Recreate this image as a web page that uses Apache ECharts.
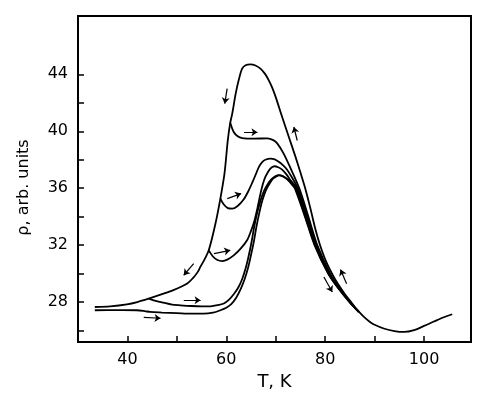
<!DOCTYPE html>
<html>
<head>
<meta charset="utf-8">
<script src="https://cdn.jsdelivr.net/npm/echarts@6/dist/echarts.min.js"></script>
<style>
html, body { margin: 0; padding: 0; background: #fff; }
#root { width: 495px; height: 398px; }
</style>
</head>
<body>
<div id="root"></div>
<script>
// main cooling curve (T, K / rho)
var tMain = [33.4, 36.5, 39.9, 42.0, 44.3, 47.0, 49.4, 52.1, 53.3, 54.2, 54.8, 55.6, 56.45, 57.8, 58.8, 59.63, 60.3, 60.8, 61.2, 61.9, 62.5, 63.2, 63.9, 64.9, 65.9, 66.9, 67.8, 68.6, 69.3, 70.0, 71.3, 72.65, 74.0, 75.0, 76.0, 77.0, 78.0, 79.0, 80.0, 81.0, 82.0, 83.0, 84.0, 85.0, 86.0, 87.0, 88.0, 89.0, 90.0, 92.0, 94.0, 96.0, 98.0, 100.0, 102.0, 104.0, 105.7];
var rMain = [27.65, 27.7, 27.84, 28.0, 28.24, 28.55, 28.85, 29.3, 29.7, 30.1, 30.5, 31.0, 31.63, 33.5, 35.27, 37.02, 39.36, 40.6, 41.24, 42.64, 43.58, 44.4, 44.64, 44.7, 44.62, 44.4, 44.05, 43.58, 43.05, 42.4, 41.0, 39.6, 38.2, 37.1, 35.95, 34.6, 33.15, 31.95, 31.0, 30.25, 29.6, 29.05, 28.55, 28.1, 27.65, 27.25, 26.9, 26.62, 26.4, 26.12, 25.96, 25.9, 26.03, 26.32, 26.63, 26.93, 27.14];

// heating branches
var tH1 = [60.8, 61.5, 62.3, 63.2, 65.6, 68.3, 69.5, 70.3, 71.6, 73.0, 74.75, 76.6, 78.4, 81.0, 82.85, 85.05, 86.84];
var rH1 = [40.6, 39.95, 39.65, 39.52, 39.48, 39.5, 39.38, 39.15, 38.43, 37.4, 36.0, 34.0, 32.0, 30.0, 29.0, 28.0, 27.3];

var tH2 = [58.8, 59.5, 60.3, 61.2, 62.3, 63.5, 64.4, 65.2, 66.0, 66.6, 67.3, 67.9, 68.95, 69.8, 70.6, 71.5, 72.3, 73.2, 74.45, 76.35, 78.2, 80.85, 82.75, 85.0, 86.82];
var rH2 = [35.27, 34.85, 34.6, 34.56, 34.75, 35.2, 35.75, 36.35, 37.0, 37.5, 37.85, 38.0, 38.08, 38.02, 37.85, 37.6, 37.3, 36.8, 36.0, 34.0, 32.0, 30.0, 29.0, 28.0, 27.3];

var tH3 = [56.45, 57.3, 58.2, 59.2, 60.3, 61.5, 62.9, 64.2, 65.0, 65.6, 66.3, 66.9, 67.4, 67.9, 68.9, 69.75, 70.5, 71.3, 72.2, 73.0, 74.2, 76.15, 78.05, 80.75, 82.68, 84.95, 86.8];
var rH3 = [31.63, 31.2, 30.95, 30.88, 31.0, 31.28, 31.75, 32.34, 33.0, 33.6, 34.6, 35.6, 36.3, 36.8, 37.37, 37.54, 37.47, 37.3, 36.95, 36.55, 36.0, 34.0, 32.0, 30.0, 29.0, 28.0, 27.3];

var tH4 = [44.3, 45.5, 47.3, 49.0, 50.7, 53.0, 55.0, 56.8, 58.3, 59.5, 60.5, 61.5, 62.4, 63.2, 63.9, 64.5, 65.1, 65.6, 66.2, 66.9, 67.6, 68.4, 69.2, 70.0, 70.6, 71.4, 72.3, 73.2, 74.0, 76.0, 77.95, 80.65, 82.62, 84.92, 86.79];
var rH4 = [28.24, 28.1, 27.95, 27.82, 27.77, 27.72, 27.7, 27.7, 27.78, 27.9, 28.15, 28.55, 29.0, 29.6, 30.35, 31.2, 32.2, 33.2, 34.2, 35.1, 35.8, 36.3, 36.65, 36.85, 36.92, 36.85, 36.65, 36.35, 36.0, 34.0, 32.0, 30.0, 29.0, 28.0, 27.3];

var tH5 = [33.4, 36.0, 39.0, 41.9, 43.5, 44.6, 47.0, 50.0, 53.0, 55.4, 57.3, 58.8, 60.0, 61.0, 62.0, 62.9, 63.7, 64.4, 65.0, 65.6, 66.1, 66.7, 67.3, 68.0, 68.7, 69.5, 70.2, 70.7, 71.5, 72.4, 73.2, 73.85, 75.9, 77.85, 80.6, 82.58, 84.9, 86.78];
var rH5 = [27.42, 27.43, 27.43, 27.42, 27.36, 27.3, 27.26, 27.22, 27.18, 27.18, 27.25, 27.42, 27.6, 27.85, 28.3, 28.9, 29.6, 30.4, 31.3, 32.3, 33.3, 34.3, 35.15, 35.85, 36.3, 36.68, 36.85, 36.9, 36.82, 36.6, 36.28, 36.0, 34.0, 32.0, 30.0, 29.0, 28.0, 27.3];

// arrows: tail -> head, in data units
var arrowFrom = [[60.17, 43.0], [63.6, 39.93], [74.35, 39.35], [60.2, 35.27], [57.5, 31.4], [53.4, 30.7], [51.4, 28.12], [43.3, 26.92], [79.74, 29.76], [84.33, 29.29]];
var arrowTo   = [[59.69, 41.94], [66.3, 39.93], [73.66, 40.3], [63.0, 35.62], [60.8, 31.63], [51.39, 29.88], [54.8, 28.12], [46.7, 26.86], [81.44, 28.7], [83.1, 30.28]];

var xTicks = [40, 50, 60, 70, 80, 90, 100];
var xLabels = [40, 60, 80, 100];
var yTicks = [26, 28, 30, 32, 34, 36, 38, 40, 42, 44];
var yLabels = [28, 32, 36, 40, 44];

function pairs(t, r) {
    var out = [];
    for (var i = 0; i < t.length; i++) out.push([t[i], r[i]]);
    return out;
}

var curves = [[tMain, rMain], [tH1, rH1], [tH2, rH2], [tH3, rH3], [tH4, rH4], [tH5, rH5]];
var series = curves.map(function (c) {
    return {
        type: 'line',
        data: pairs(c[0], c[1]),
        smooth: 0.3,
        showSymbol: false,
        silent: true,
        lineStyle: { color: '#000', width: 1.8 }
    };
});

var arrowData = [];
for (var i = 0; i < arrowFrom.length; i++) {
    arrowData.push({ coords: [arrowFrom[i], arrowTo[i]] });
}
series.push({
    type: 'lines',
    coordinateSystem: 'cartesian2d',
    symbol: ['none', 'arrow'],
    symbolSize: 6,
    silent: true,
    lineStyle: { color: '#000', width: 1.2, opacity: 1 },
    data: arrowData
});

var font = "'DejaVu Sans', Verdana, sans-serif";

var myChart = echarts.init(document.getElementById('root'));
myChart.setOption({
    animation: false,
    grid: {
        show: true,
        left: 78, top: 16, width: 393, height: 326,
        borderColor: '#000', borderWidth: 2,
        backgroundColor: 'transparent'
    },
    xAxis: {
        type: 'value',
        min: 30, max: 109.5,
        name: 'T, K',
        nameLocation: 'middle',
        nameGap: 30,
        nameTextStyle: { color: '#000', fontSize: 18, fontFamily: font },
        axisLine: { show: false },
        splitLine: { show: false },
        axisTick: { inside: true, length: 6, customValues: xTicks, lineStyle: { color: '#000', width: 1.5 } },
        axisLabel: { customValues: xLabels, margin: 10, color: '#000', fontSize: 16, fontFamily: font }
    },
    yAxis: {
        type: 'value',
        min: 25.19, max: 48.1,
        name: 'ρ, arb. units',
        nameLocation: 'middle',
        nameGap: 46,
        nameTextStyle: { color: '#000', fontSize: 16, fontFamily: font, padding: [0, 17, 0, 0] },
        axisLine: { show: false },
        splitLine: { show: false },
        axisTick: { inside: true, length: 6, customValues: yTicks, lineStyle: { color: '#000', width: 1.5 } },
        axisLabel: { customValues: yLabels, margin: 10, color: '#000', fontSize: 16, fontFamily: font }
    },
    series: series
});
</script>
</body>
</html>
